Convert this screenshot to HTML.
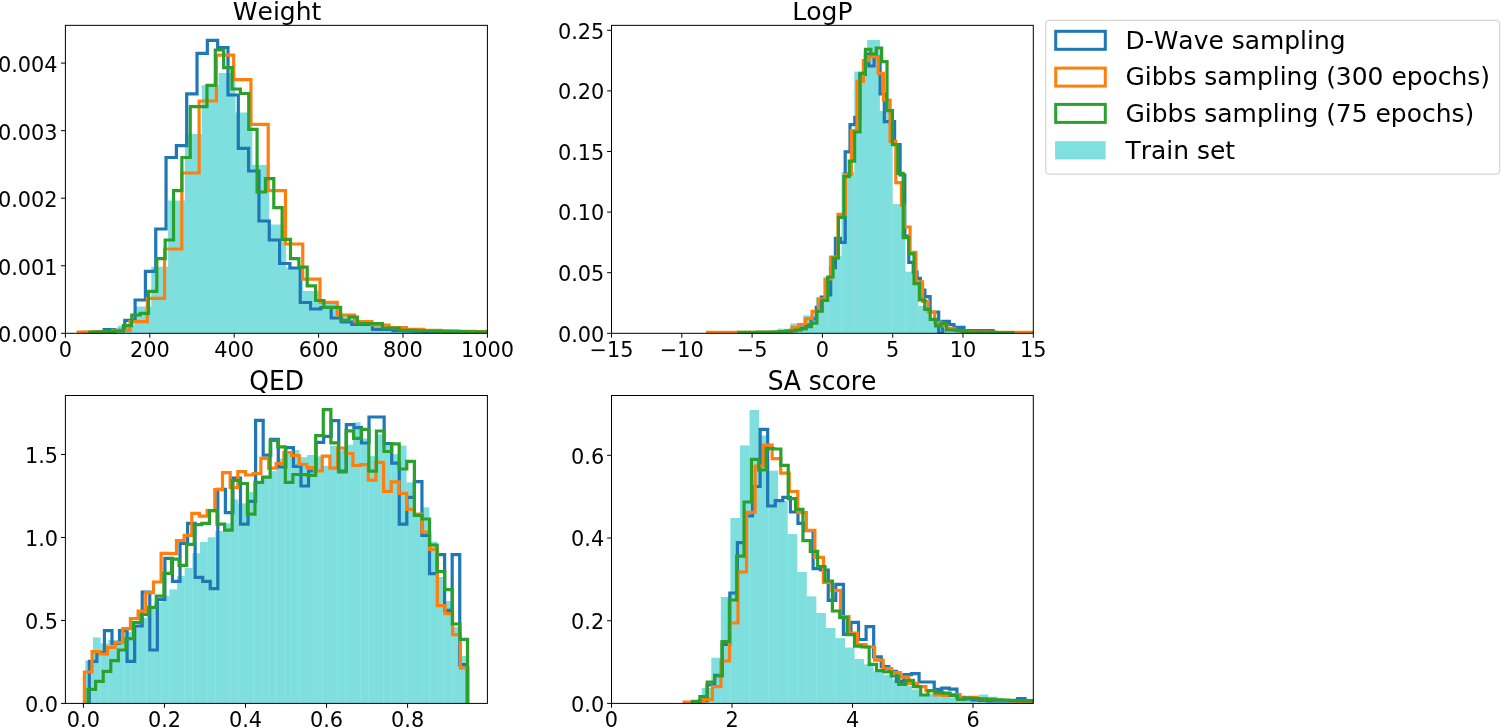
<!DOCTYPE html>
<html lang="en"><head><meta charset="utf-8"><title>Property distributions</title>
<style>html,body{margin:0;padding:0;background:#fff}svg{display:block}text{font-family:"DejaVu Sans", "Liberation Sans", sans-serif;fill:#000;font-kerning:none}.tk{font-size:20.83px}.tt{font-size:25.0px}.lg{font-size:24.95px}.st{fill:none;stroke-width:3.2;stroke-linejoin:miter;stroke-linecap:butt}</style></head><body>
<svg width="1501" height="727" viewBox="0 0 1501 727">
<rect width="1501" height="727" fill="#fff"/>
<defs>
<clipPath id="a1"><rect x="65.4" y="25.35" width="422" height="307.95"/></clipPath>
<clipPath id="a2"><rect x="611.5" y="25.35" width="421.8" height="307.95"/></clipPath>
<clipPath id="a3"><rect x="65.4" y="395.5" width="422" height="307.9"/></clipPath>
<clipPath id="a4"><rect x="611.5" y="395.5" width="421.8" height="307.9"/></clipPath>
</defs>
<g>
<g clip-path="url(#a1)">
<path d="M83.85 333.3 L83.85 332 L100.7 332 L100.7 330.3 L117.55 330.3 L117.55 325.7 L134.4 325.7 L134.4 306.4 L151.25 306.4 L151.25 266.7 L168.1 266.7 L168.1 200.6 L184.95 200.6 L184.95 133.9 L201.8 133.9 L201.8 85.2 L218.65 85.2 L218.65 73 L235.5 73 L235.5 112.5 L252.35 112.5 L252.35 164.9 L269.2 164.9 L269.2 224.4 L286.05 224.4 L286.05 267.5 L302.9 267.5 L302.9 291 L319.75 291 L319.75 304 L336.6 304 L336.6 315.5 L353.45 315.5 L353.45 322 L370.3 322 L370.3 324.5 L387.15 324.5 L387.15 327.5 L404 327.5 L404 329.3 L420.85 329.3 L420.85 330.3 L437.7 330.3 L437.7 330.9 L454.55 330.9 L454.55 331.4 L471.4 331.4 L471.4 331.8 L488.25 331.8 L488.25 332.1 L505.1 332.1 L505.1 333.3 Z" fill="#00bfbf" fill-opacity="0.5"/>
<path class="st" d="M83.5 333.3 L83.5 332.3 L93.82 332.3 L93.82 332 L104.14 332 L104.14 329.7 L114.46 329.7 L114.46 330.4 L124.78 330.4 L124.78 320.4 L135.1 320.4 L135.1 300 L145.42 300 L145.42 271.4 L155.74 271.4 L155.74 229 L166.06 229 L166.06 157.5 L176.38 157.5 L176.38 145.7 L186.7 145.7 L186.7 93.8 L197.02 93.8 L197.02 53.3 L207.34 53.3 L207.34 40.4 L217.66 40.4 L217.66 47.5 L227.98 47.5 L227.98 95 L238.3 95 L238.3 148.3 L248.62 148.3 L248.62 171 L258.94 171 L258.94 221 L269.26 221 L269.26 240 L279.58 240 L279.58 263.5 L289.9 263.5 L289.9 268 L300.22 268 L300.22 302.5 L310.54 302.5 L310.54 309 L320.86 309 L320.86 307.5 L331.18 307.5 L331.18 318 L341.5 318 L341.5 322 L351.82 322 L351.82 324.4 L362.14 324.4 L372.46 324.4 L372.46 329.3 L382.78 329.3 L393.1 329.3 L393.1 330.6 L403.42 330.6 L403.42 331 L413.74 331 L413.74 331.2 L424.06 331.2 L424.06 331.5 L434.38 331.5 L434.38 331.7 L444.7 331.7 L444.7 331.9 L455.02 331.9 L455.02 331.6 L465.34 331.6 L465.34 332 L475.66 332 L485.98 332 L485.98 331.3 L496.3 331.3 L496.3 333.3" stroke="#1f77b4"/>
<path class="st" d="M78.18 333.3 L78.18 332.2 L95.45 332.2 L95.45 331.6 L112.72 331.6 L112.72 330.4 L130 330.4 L130 321.7 L147.28 321.7 L147.28 298.4 L164.55 298.4 L164.55 249 L181.82 249 L181.82 173 L199.1 173 L199.1 101 L216.38 101 L216.38 55.2 L233.65 55.2 L233.65 79.7 L250.92 79.7 L250.92 124.3 L268.2 124.3 L268.2 190.6 L285.48 190.6 L285.48 244 L302.75 244 L302.75 279.2 L320.02 279.2 L320.02 302.4 L337.3 302.4 L337.3 315 L354.57 315 L354.57 321.7 L371.85 321.7 L371.85 325 L389.12 325 L389.12 327.7 L406.4 327.7 L406.4 329.3 L423.67 329.3 L423.67 330.3 L440.95 330.3 L440.95 330.9 L458.22 330.9 L458.22 331.3 L475.5 331.3 L475.5 331.7 L492.77 331.7 L492.77 332 L510.05 332 L510.05 333.3" stroke="#ff7f0e"/>
<path class="st" d="M89.98 333.3 L89.98 332.2 L98.34 332.2 L98.34 331.9 L106.69 331.9 L106.69 331.5 L115.05 331.5 L115.05 331 L123.4 331 L123.4 325.7 L131.75 325.7 L131.75 315 L140.11 315 L140.11 313.3 L148.47 313.3 L148.47 291.3 L156.82 291.3 L156.82 258.7 L165.18 258.7 L165.18 240 L173.53 240 L173.53 190.6 L181.88 190.6 L181.88 157.5 L190.24 157.5 L190.24 106.6 L198.6 106.6 L206.95 106.6 L206.95 85.4 L215.31 85.4 L215.31 50 L223.66 50 L223.66 67.6 L232.02 67.6 L232.02 89 L240.37 89 L240.37 93.5 L248.73 93.5 L248.73 129.3 L257.08 129.3 L257.08 192 L265.44 192 L265.44 178.6 L273.79 178.6 L273.79 207.6 L282.14 207.6 L282.14 239.4 L290.5 239.4 L290.5 258.6 L298.86 258.6 L298.86 267.2 L307.21 267.2 L307.21 285.8 L315.57 285.8 L315.57 300.5 L323.92 300.5 L323.92 307.3 L332.27 307.3 L340.63 307.3 L340.63 320.4 L348.99 320.4 L348.99 317 L357.34 317 L357.34 323.7 L365.7 323.7 L374.05 323.7 L382.4 323.7 L382.4 328 L390.76 328 L399.12 328 L399.12 330.4 L407.47 330.4 L415.83 330.4 L415.83 330.8 L424.18 330.8 L424.18 331 L432.53 331 L432.53 331.2 L440.89 331.2 L440.89 331.4 L449.25 331.4 L449.25 331.5 L457.6 331.5 L457.6 331.7 L465.96 331.7 L465.96 331.8 L474.31 331.8 L474.31 331.9 L482.67 331.9 L482.67 332 L491.02 332 L499.38 332 L499.38 333.3" stroke="#2ca02c"/>
</g>
<path d="M65.4 333.3 v4.4 M149.8 333.3 v4.4 M234.2 333.3 v4.4 M318.6 333.3 v4.4 M403 333.3 v4.4 M487.4 333.3 v4.4 M65.4 333.3 h-4.4 M65.4 265.75 h-4.4 M65.4 198.2 h-4.4 M65.4 130.65 h-4.4 M65.4 63.1 h-4.4" stroke="#000" stroke-width="1" fill="none"/>
<rect x="65.4" y="25.35" width="422" height="307.95" fill="none" stroke="#000" stroke-width="1"/>
<text class="tk" x="65.4" y="357.3" text-anchor="middle">0</text>
<text class="tk" x="149.8" y="357.3" text-anchor="middle">200</text>
<text class="tk" x="234.2" y="357.3" text-anchor="middle">400</text>
<text class="tk" x="318.6" y="357.3" text-anchor="middle">600</text>
<text class="tk" x="403" y="357.3" text-anchor="middle">800</text>
<text class="tk" x="487.4" y="357.3" text-anchor="middle">1000</text>
<text class="tk" x="57.6" y="342.45" text-anchor="end">0.000</text>
<text class="tk" x="57.6" y="274.9" text-anchor="end">0.001</text>
<text class="tk" x="57.6" y="207.35" text-anchor="end">0.002</text>
<text class="tk" x="57.6" y="139.8" text-anchor="end">0.003</text>
<text class="tk" x="57.6" y="72.25" text-anchor="end">0.004</text>
<text class="tt" x="277.1" y="20" text-anchor="middle">Weight</text>
</g>
<g>
<g clip-path="url(#a2)">
<g fill="#00bfbf" fill-opacity="0.5">
<rect x="739.1" y="332.6" width="12.8" height="0.7"/>
<rect x="751.9" y="332.3" width="12.8" height="1"/>
<rect x="764.7" y="331" width="12.8" height="2.3"/>
<rect x="777.5" y="328.7" width="12.8" height="4.6"/>
<rect x="790.3" y="323.4" width="12.8" height="9.9"/>
<rect x="803.1" y="315.4" width="12.8" height="17.9"/>
<rect x="815.9" y="297.4" width="12.8" height="35.9"/>
<rect x="828.7" y="256.2" width="12.8" height="77.1"/>
<rect x="841.5" y="172" width="12.8" height="161.3"/>
<rect x="854.3" y="71.6" width="12.8" height="261.7"/>
<rect x="867.1" y="40" width="12.8" height="293.3"/>
<rect x="879.9" y="111" width="12.8" height="222.3"/>
<rect x="892.7" y="204.1" width="12.8" height="129.2"/>
<rect x="905.5" y="271.7" width="12.8" height="61.6"/>
<rect x="918.3" y="306" width="12.8" height="27.3"/>
<rect x="931.1" y="320" width="12.8" height="13.3"/>
<rect x="943.9" y="328.7" width="12.8" height="4.6"/>
<rect x="956.7" y="331.5" width="12.8" height="1.8"/>
<rect x="969.5" y="332.3" width="12.8" height="1"/>
<rect x="982.3" y="332.6" width="12.8" height="0.7"/>
</g>
<path class="st" d="M746 333.3 L746 332.5 L771 332.5 L771 332.3 L776 332.3 L776 332 L781 332 L781 331.6 L786 331.6 L786 331 L791 331 L791 330.4 L796 330.4 L796 329.6 L801 329.6 L801 328 L806 328 L806 325 L811 325 L811 319 L816.3 319 L816.3 307.4 L821.2 307.4 L821.2 297 L826 297 L826 295 L830.7 295 L830.7 267.7 L835.4 267.7 L835.4 238.4 L840.4 238.4 L840.4 242.4 L845.2 242.4 L845.2 151.8 L850 151.8 L850 124.7 L854.8 124.7 L854.8 117.4 L859.9 117.4 L859.9 74.5 L865.4 74.5 L865.4 54 L868.8 54 L868.8 66 L874.1 66 L874.1 57 L880.1 57 L880.1 94 L884.3 94 L884.3 121.7 L889.3 121.7 L894.6 121.7 L894.6 144.5 L900.1 144.5 L900.1 175 L904.8 175 L904.8 236 L908.8 236 L908.8 262.4 L913.2 262.4 L913.2 272 L917 272 L917 278.4 L920.3 278.4 L920.3 290 L924.9 290 L924.9 296.7 L930.1 296.7 L930.1 312 L935 312 L938.7 312 L938.7 333.3 L942.7 333.3 L942.7 321.4 L949.4 321.4 L949.4 324.7 L954 324.7 L954 327.4 L964 327.4 L964 330.7 L993 330.7 L993 332.5 L1003 332.5 L1003 333.3" stroke="#1f77b4"/>
<path class="st" d="M707.5 333.3 L707.5 332.4 L785.5 332.4 L785.5 331.4 L792 331.4 L792 327.4 L798.7 327.4 L798.7 324.7 L805.4 324.7 L805.4 318.7 L812.1 318.7 L812.1 311.4 L818.4 311.4 L818.4 299 L825 299 L825 279 L830.9 279 L830.9 257 L838 257 L838 214.3 L845.4 214.3 L845.4 174.7 L851.4 174.7 L851.4 130.7 L857.1 130.7 L857.1 81.4 L863.4 81.4 L863.4 60.7 L868.7 60.7 L868.7 56.7 L878.1 56.7 L878.1 73.4 L883.4 73.4 L883.4 100 L890.1 100 L890.1 141.3 L895.8 141.3 L895.8 182.7 L901.4 182.7 L901.4 205 L904.2 205 L904.2 227 L910.1 227 L910.1 252.4 L916 252.4 L916 281.8 L922.6 281.8 L922.6 301.4 L928.3 301.4 L928.3 312 L934.7 312 L934.7 322.7 L941.3 322.7 L941.3 326 L947.5 326 L947.5 328.7 L954.5 328.7 L954.5 330.5 L961 330.5 L961 331.3 L967.5 331.3 L967.5 331.8 L974 331.8 L974 332.1 L990 332.1 L990 332.4 L1036 332.4 L1036 333.3" stroke="#ff7f0e"/>
<path class="st" d="M738.7 333.3 L738.7 332.3 L746.75 332.3 L752.15 332.3 L757.55 332.3 L757.55 332.2 L762.94 332.2 L768.34 332.2 L768.34 332.1 L773.73 332.1 L773.73 332 L779.12 332 L779.12 331.8 L784.52 331.8 L784.52 331.5 L789.92 331.5 L789.92 331 L795.31 331 L795.31 330 L800.71 330 L800.71 329 L806.1 329 L806.1 326.7 L811.5 326.7 L811.5 323.1 L816.89 323.1 L816.89 311.1 L822.28 311.1 L822.28 300.4 L827.68 300.4 L827.68 277 L833.08 277 L833.08 258 L838.47 258 L838.47 217.3 L843.87 217.3 L843.87 176.7 L849.26 176.7 L849.26 161.1 L854.65 161.1 L854.65 132 L860.05 132 L860.05 73.4 L865.45 73.4 L865.45 49.3 L870.84 49.3 L870.84 54 L876.24 54 L876.24 48 L881.63 48 L881.63 61.6 L887.02 61.6 L887.02 110.7 L892.42 110.7 L892.42 144.7 L897.82 144.7 L897.82 173.4 L903.21 173.4 L903.21 237.7 L908.61 237.7 L908.61 253.8 L914 253.8 L914 283.6 L919.39 283.6 L919.39 299.8 L924.79 299.8 L924.79 309.4 L930.19 309.4 L930.19 319.4 L935.58 319.4 L935.58 326 L940.98 326 L940.98 323.4 L946.37 323.4 L946.37 330 L951.76 330 L957.16 330 L957.16 330.6 L962.56 330.6 L962.56 331.5 L967.95 331.5 L967.95 332 L973.35 332 L973.35 332.3 L978.74 332.3 L978.74 332.5 L984.13 332.5 L989.53 332.5 L989.53 332 L994.92 332 L994.92 332.5 L1013 332.5 L1013 333.3" stroke="#2ca02c"/>
</g>
<path d="M611.5 333.3 v4.4 M681.8 333.3 v4.4 M752.1 333.3 v4.4 M822.4 333.3 v4.4 M892.7 333.3 v4.4 M963 333.3 v4.4 M1033.3 333.3 v4.4 M611.5 333.3 h-4.4 M611.5 272.7 h-4.4 M611.5 212.1 h-4.4 M611.5 151.5 h-4.4 M611.5 90.9 h-4.4 M611.5 30.3 h-4.4" stroke="#000" stroke-width="1" fill="none"/>
<rect x="611.5" y="25.35" width="421.8" height="307.95" fill="none" stroke="#000" stroke-width="1"/>
<text class="tk" x="611.5" y="357" text-anchor="middle">−15</text>
<text class="tk" x="681.8" y="357" text-anchor="middle">−10</text>
<text class="tk" x="752.1" y="357" text-anchor="middle">−5</text>
<text class="tk" x="822.4" y="357" text-anchor="middle">0</text>
<text class="tk" x="892.7" y="357" text-anchor="middle">5</text>
<text class="tk" x="963" y="357" text-anchor="middle">10</text>
<text class="tk" x="1033.3" y="357" text-anchor="middle">15</text>
<text class="tk" x="604.4" y="341.5" text-anchor="end">0.00</text>
<text class="tk" x="604.4" y="280.9" text-anchor="end">0.05</text>
<text class="tk" x="604.4" y="220.3" text-anchor="end">0.10</text>
<text class="tk" x="604.4" y="159.7" text-anchor="end">0.15</text>
<text class="tk" x="604.4" y="99.1" text-anchor="end">0.20</text>
<text class="tk" x="604.4" y="38.5" text-anchor="end">0.25</text>
<text class="tt" x="822.4" y="20" text-anchor="middle">LogP</text>
</g>
<g>
<g clip-path="url(#a3)">
<g fill="#00bfbf" fill-opacity="0.5">
<rect x="85.3" y="660.7" width="7.65" height="42.7"/>
<rect x="92.95" y="637.4" width="7.65" height="66"/>
<rect x="100.6" y="643.4" width="7.65" height="60"/>
<rect x="108.24" y="640" width="7.65" height="63.4"/>
<rect x="115.89" y="640" width="7.65" height="63.4"/>
<rect x="123.54" y="632" width="7.65" height="71.4"/>
<rect x="131.19" y="627" width="7.65" height="76.4"/>
<rect x="138.84" y="618" width="7.65" height="85.4"/>
<rect x="146.48" y="608.7" width="7.65" height="94.7"/>
<rect x="154.13" y="602" width="7.65" height="101.4"/>
<rect x="161.78" y="596" width="7.65" height="107.4"/>
<rect x="169.43" y="589.4" width="7.65" height="114"/>
<rect x="177.08" y="576" width="7.65" height="127.4"/>
<rect x="184.72" y="568" width="7.65" height="135.4"/>
<rect x="192.37" y="553.3" width="7.65" height="150.1"/>
<rect x="200.02" y="542" width="7.65" height="161.4"/>
<rect x="207.67" y="537.3" width="7.65" height="166.1"/>
<rect x="215.32" y="531" width="7.65" height="172.4"/>
<rect x="222.96" y="523.4" width="7.65" height="180"/>
<rect x="230.61" y="499.4" width="7.65" height="204"/>
<rect x="238.26" y="503.4" width="7.65" height="200"/>
<rect x="245.91" y="492" width="7.65" height="211.4"/>
<rect x="253.56" y="484" width="7.65" height="219.4"/>
<rect x="261.2" y="478" width="7.65" height="225.4"/>
<rect x="268.85" y="471" width="7.65" height="232.4"/>
<rect x="276.5" y="458.6" width="7.65" height="244.8"/>
<rect x="284.15" y="454" width="7.65" height="249.4"/>
<rect x="291.8" y="450" width="7.65" height="253.4"/>
<rect x="299.44" y="457.2" width="7.65" height="246.2"/>
<rect x="307.09" y="455" width="7.65" height="248.4"/>
<rect x="314.74" y="456.4" width="7.65" height="247"/>
<rect x="322.39" y="465.8" width="7.65" height="237.6"/>
<rect x="330.04" y="445.8" width="7.65" height="257.6"/>
<rect x="337.68" y="450.4" width="7.65" height="253"/>
<rect x="345.33" y="444.8" width="7.65" height="258.6"/>
<rect x="352.98" y="422.4" width="7.65" height="281"/>
<rect x="360.63" y="438.4" width="7.65" height="265"/>
<rect x="368.28" y="456.2" width="7.65" height="247.2"/>
<rect x="375.92" y="434.4" width="7.65" height="269"/>
<rect x="383.57" y="445.5" width="7.65" height="257.9"/>
<rect x="391.22" y="454.2" width="7.65" height="249.2"/>
<rect x="398.87" y="445.6" width="7.65" height="257.8"/>
<rect x="406.52" y="482.4" width="7.65" height="221"/>
<rect x="414.16" y="514" width="7.65" height="189.4"/>
<rect x="421.81" y="507.4" width="7.65" height="196"/>
<rect x="429.46" y="541.7" width="7.65" height="161.7"/>
<rect x="437.11" y="577" width="7.65" height="126.4"/>
<rect x="444.76" y="601" width="7.65" height="102.4"/>
<rect x="452.4" y="627" width="7.65" height="76.4"/>
<rect x="460.05" y="656" width="7.65" height="47.4"/>
</g>
<path class="st" d="M89.3 703.4 L89.3 661.4 L96.86 661.4 L96.86 652.5 L104.42 652.5 L104.42 630.7 L111.98 630.7 L111.98 643.4 L119.54 643.4 L119.54 630.7 L127.1 630.7 L127.1 661.4 L134.66 661.4 L134.66 626 L142.22 626 L142.22 592 L149.78 592 L149.78 650 L157.34 650 L157.34 599.4 L164.9 599.4 L164.9 558.3 L172.46 558.3 L172.46 581.4 L180.02 581.4 L180.02 543.3 L187.58 543.3 L187.58 523.4 L195.14 523.4 L195.14 577.4 L202.7 577.4 L202.7 581.4 L210.26 581.4 L210.26 588.7 L217.82 588.7 L217.82 489.4 L225.38 489.4 L225.38 512.7 L232.94 512.7 L232.94 478.2 L240.5 478.2 L240.5 524.1 L248.06 524.1 L248.06 501.4 L255.62 501.4 L255.62 420.4 L263.18 420.4 L263.18 455.1 L270.74 455.1 L270.74 439.3 L278.3 439.3 L278.3 467 L285.86 467 L285.86 447.7 L293.42 447.7 L293.42 466.4 L300.98 466.4 L300.98 486 L308.54 486 L308.54 471 L316.1 471 L316.1 442.4 L323.66 442.4 L323.66 436.4 L331.22 436.4 L331.22 420.6 L338.78 420.6 L338.78 471 L346.34 471 L346.34 424.6 L353.9 424.6 L353.9 427.7 L361.46 427.7 L361.46 443 L369.02 443 L369.02 417 L376.58 417 L384.14 417 L384.14 443.7 L391.7 443.7 L391.7 463.1 L399.26 463.1 L399.26 524.1 L406.82 524.1 L406.82 497.4 L414.38 497.4 L414.38 481.6 L421.94 481.6 L421.94 535.4 L429.5 535.4 L429.5 573.7 L437.06 573.7 L437.06 554.6 L444.62 554.6 L444.62 610.4 L452.18 610.4 L452.18 554.6 L459.74 554.6 L459.74 664.7 L467.2 664.7 L467.2 703.4" stroke="#1f77b4"/>
<path class="st" d="M84.4 703.4 L84.4 672 L92.07 672 L92.07 651.6 L99.74 651.6 L99.74 654 L107.42 654 L107.42 647.4 L115.09 647.4 L115.09 642.7 L122.76 642.7 L122.76 628.7 L130.43 628.7 L130.43 618.5 L138.1 618.5 L138.1 611.1 L145.78 611.1 L145.78 592.7 L153.45 592.7 L153.45 582 L161.12 582 L161.12 553.3 L168.79 553.3 L168.79 553.7 L176.46 553.7 L176.46 540.7 L184.14 540.7 L184.14 535.3 L191.81 535.3 L191.81 513.4 L199.48 513.4 L199.48 516.1 L207.15 516.1 L207.15 510.7 L214.82 510.7 L214.82 489.6 L222.5 489.6 L222.5 472.7 L230.17 472.7 L230.17 487.4 L237.84 487.4 L237.84 471.7 L245.51 471.7 L245.51 475 L253.18 475 L253.18 473.5 L260.86 473.5 L260.86 458.4 L268.53 458.4 L268.53 468.2 L276.2 468.2 L276.2 463.5 L283.87 463.5 L283.87 452.5 L291.54 452.5 L291.54 455.5 L299.22 455.5 L299.22 464.4 L306.89 464.4 L306.89 467.5 L314.56 467.5 L314.56 470.9 L322.23 470.9 L322.23 456.2 L329.9 456.2 L329.9 468.2 L337.58 468.2 L337.58 448.2 L345.25 448.2 L345.25 453.5 L352.92 453.5 L352.92 465.5 L360.59 465.5 L360.59 464.6 L368.26 464.6 L368.26 480.1 L375.94 480.1 L375.94 462.4 L383.61 462.4 L383.61 491.4 L391.28 491.4 L391.28 481.8 L398.95 481.8 L398.95 493.4 L406.62 493.4 L406.62 509.4 L414.3 509.4 L414.3 514 L421.97 514 L421.97 532.1 L429.64 532.1 L429.64 549.3 L437.31 549.3 L437.31 605.7 L444.98 605.7 L444.98 613.7 L452.66 613.7 L452.66 634.7 L460.33 634.7 L460.33 668 L468 668 L468 703.4" stroke="#ff7f0e"/>
<path class="st" d="M88 703.4 L88 689.4 L95.59 689.4 L95.59 681.4 L103.18 681.4 L103.18 671.4 L110.77 671.4 L110.77 660.7 L118.36 660.7 L118.36 650 L125.95 650 L125.95 638.7 L133.54 638.7 L133.54 622.4 L141.13 622.4 L141.13 614.5 L148.72 614.5 L148.72 607.4 L156.31 607.4 L156.31 596 L163.9 596 L163.9 573.4 L171.49 573.4 L171.49 559.1 L179.08 559.1 L179.08 565.4 L186.67 565.4 L186.67 544.4 L194.26 544.4 L194.26 524.7 L201.85 524.7 L201.85 523.4 L209.44 523.4 L209.44 510.7 L217.03 510.7 L217.03 524.1 L224.62 524.1 L224.62 530.1 L232.21 530.1 L232.21 480.5 L239.8 480.5 L239.8 483.5 L247.39 483.5 L247.39 514.1 L254.98 514.1 L254.98 482.4 L262.57 482.4 L262.57 477.2 L270.16 477.2 L270.16 440.5 L277.75 440.5 L277.75 446.8 L285.34 446.8 L285.34 482.4 L292.93 482.4 L292.93 474.5 L300.52 474.5 L300.52 474.7 L308.11 474.7 L308.11 475.3 L315.7 475.3 L315.7 435.7 L323.29 435.7 L323.29 409.7 L330.88 409.7 L330.88 442.8 L338.47 442.8 L338.47 471.8 L346.06 471.8 L346.06 430.8 L353.65 430.8 L353.65 438.4 L361.24 438.4 L361.24 429.4 L368.83 429.4 L368.83 471.2 L376.42 471.2 L376.42 431 L384.01 431 L384.01 451.5 L391.6 451.5 L391.6 443.8 L399.19 443.8 L399.19 469 L406.78 469 L406.78 461.4 L414.37 461.4 L414.37 515.4 L421.96 515.4 L421.96 519 L429.55 519 L429.55 545 L437.14 545 L437.14 571.7 L444.73 571.7 L444.73 589.7 L452.32 589.7 L452.32 624 L459.91 624 L459.91 639.4 L467.5 639.4 L467.5 703.4" stroke="#2ca02c"/>
</g>
<path d="M83.4 703.4 v4.4 M164.45 703.4 v4.4 M245.5 703.4 v4.4 M326.55 703.4 v4.4 M407.6 703.4 v4.4 M65.4 703.4 h-4.4 M65.4 620.43 h-4.4 M65.4 537.46 h-4.4 M65.4 454.49 h-4.4" stroke="#000" stroke-width="1" fill="none"/>
<rect x="65.4" y="395.5" width="422" height="307.9" fill="none" stroke="#000" stroke-width="1"/>
<text class="tk" x="83.4" y="726.7" text-anchor="middle">0.0</text>
<text class="tk" x="164.45" y="726.7" text-anchor="middle">0.2</text>
<text class="tk" x="245.5" y="726.7" text-anchor="middle">0.4</text>
<text class="tk" x="326.55" y="726.7" text-anchor="middle">0.6</text>
<text class="tk" x="407.6" y="726.7" text-anchor="middle">0.8</text>
<text class="tk" x="58.05" y="711.6" text-anchor="end">0.0</text>
<text class="tk" x="58.05" y="628.63" text-anchor="end">0.5</text>
<text class="tk" x="58.05" y="545.66" text-anchor="end">1.0</text>
<text class="tk" x="58.05" y="462.69" text-anchor="end">1.5</text>
<text class="tt" transform="translate(276.7 390) scale(1 1.03)" text-anchor="middle">QED</text>
</g>
<g>
<g clip-path="url(#a4)">
<g fill="#00bfbf" fill-opacity="0.5">
<rect x="692.2" y="702" width="9.55" height="1.4"/>
<rect x="701.75" y="688" width="9.55" height="15.4"/>
<rect x="711.3" y="657.7" width="9.55" height="45.7"/>
<rect x="720.85" y="597" width="9.55" height="106.4"/>
<rect x="730.4" y="518" width="9.55" height="185.4"/>
<rect x="739.95" y="445.4" width="9.55" height="258"/>
<rect x="749.5" y="410" width="9.55" height="293.4"/>
<rect x="759.05" y="435.4" width="9.55" height="268"/>
<rect x="768.6" y="470.7" width="9.55" height="232.7"/>
<rect x="778.15" y="501" width="9.55" height="202.4"/>
<rect x="787.7" y="534" width="9.55" height="169.4"/>
<rect x="797.25" y="572" width="9.55" height="131.4"/>
<rect x="806.8" y="596.4" width="9.55" height="107"/>
<rect x="816.35" y="613" width="9.55" height="90.4"/>
<rect x="825.9" y="628" width="9.55" height="75.4"/>
<rect x="835.45" y="638.1" width="9.55" height="65.3"/>
<rect x="845" y="647.5" width="9.55" height="55.9"/>
<rect x="854.55" y="659" width="9.55" height="44.4"/>
<rect x="864.1" y="664.3" width="9.55" height="39.1"/>
<rect x="873.65" y="671.4" width="9.55" height="32"/>
<rect x="883.2" y="674.7" width="9.55" height="28.7"/>
<rect x="892.75" y="679.4" width="9.55" height="24"/>
<rect x="902.3" y="686" width="9.55" height="17.4"/>
<rect x="911.85" y="689.4" width="9.55" height="14"/>
<rect x="921.4" y="694" width="9.55" height="9.4"/>
<rect x="930.95" y="693.4" width="9.55" height="10"/>
<rect x="940.5" y="696.7" width="9.55" height="6.7"/>
<rect x="950.05" y="697.4" width="9.55" height="6"/>
<rect x="959.6" y="696" width="9.55" height="7.4"/>
<rect x="969.15" y="696.3" width="9.55" height="7.1"/>
<rect x="978.7" y="694.5" width="9.55" height="8.9"/>
<rect x="988.25" y="696.7" width="9.55" height="6.7"/>
<rect x="997.8" y="698.9" width="9.55" height="4.5"/>
<rect x="1007.35" y="699.8" width="9.55" height="3.6"/>
<rect x="1016.9" y="700.7" width="9.55" height="2.7"/>
<rect x="1026.45" y="701.2" width="9.55" height="2.2"/>
</g>
<path class="st" d="M691.98 703.4 L691.98 702.3 L699.55 702.3 L699.55 700.7 L707.12 700.7 L707.12 685 L714.69 685 L714.69 675.4 L722.26 675.4 L722.26 644.4 L729.83 644.4 L729.83 593 L737.4 593 L737.4 542.7 L744.97 542.7 L744.97 516 L752.54 516 L752.54 486.5 L760.11 486.5 L760.11 429.4 L767.68 429.4 L767.68 506 L775.25 506 L775.25 500.7 L782.82 500.7 L782.82 497.3 L790.39 497.3 L790.39 512 L797.96 512 L797.96 523.4 L805.53 523.4 L805.53 530.7 L813.1 530.7 L813.1 568.7 L820.67 568.7 L820.67 570 L828.24 570 L828.24 600.4 L835.81 600.4 L835.81 584.3 L843.38 584.3 L843.38 634.4 L850.95 634.4 L850.95 622.4 L858.52 622.4 L858.52 639.5 L866.09 639.5 L866.09 626.7 L873.66 626.7 L873.66 656.9 L881.23 656.9 L881.23 666.7 L888.8 666.7 L888.8 671.4 L896.37 671.4 L896.37 681.4 L903.94 681.4 L903.94 674.7 L911.51 674.7 L911.51 673.6 L919.08 673.6 L919.08 682 L926.65 682 L934.22 682 L934.22 689.4 L941.79 689.4 L941.79 688.1 L949.36 688.1 L949.36 689.1 L956.93 689.1 L956.93 697.4 L964.5 697.4 L964.5 699 L972.07 699 L972.07 700 L979.64 700 L979.64 700.5 L987.21 700.5 L987.21 700.8 L994.78 700.8 L994.78 701 L1002.35 701 L1009.92 701 L1009.92 700.8 L1017.49 700.8 L1017.49 698.7 L1025.06 698.7 L1025.06 700.6 L1032.63 700.6 L1032.63 701 L1036 701 L1036 703.4" stroke="#1f77b4"/>
<path class="st" d="M684.1 703.4 L684.1 702.2 L686.76 702.2 L695.3 702.2 L695.3 702 L703.84 702 L703.84 699.4 L712.38 699.4 L712.38 686.7 L720.92 686.7 L720.92 661 L729.46 661 L729.46 623 L738 623 L738 572 L746.54 572 L746.54 512.3 L755.08 512.3 L755.08 466 L763.62 466 L763.62 445.1 L772.16 445.1 L772.16 458.7 L780.7 458.7 L780.7 473.1 L789.24 473.1 L789.24 491.5 L797.78 491.5 L797.78 512.7 L806.32 512.7 L806.32 530.4 L814.86 530.4 L814.86 557.4 L823.4 557.4 L823.4 582.3 L831.94 582.3 L831.94 590.3 L840.48 590.3 L840.48 616.5 L849.02 616.5 L849.02 633.2 L857.56 633.2 L857.56 644.5 L866.1 644.5 L866.1 647 L874.64 647 L874.64 660.2 L883.18 660.2 L883.18 668.7 L891.72 668.7 L891.72 672.7 L900.26 672.7 L900.26 677.1 L908.8 677.1 L908.8 683.4 L917.34 683.4 L917.34 686.7 L925.88 686.7 L925.88 690.7 L934.42 690.7 L934.42 695 L942.96 695 L942.96 695.4 L951.5 695.4 L951.5 694.7 L960.04 694.7 L960.04 698.1 L968.58 698.1 L968.58 697.4 L977.12 697.4 L977.12 698.6 L985.66 698.6 L985.66 699.3 L994.2 699.3 L994.2 700 L1002.74 700 L1002.74 700.5 L1011.28 700.5 L1011.28 701 L1019.82 701 L1019.82 701.3 L1028.36 701.3 L1028.36 701.6 L1036 701.6 L1036 703.4" stroke="#ff7f0e"/>
<path class="st" d="M692.54 703.4 L692.54 701.4 L699.9 701.4 L699.9 696.7 L707.26 696.7 L707.26 682 L714.62 682 L714.62 676 L721.98 676 L721.98 641.7 L729.34 641.7 L729.34 600 L736.7 600 L736.7 556.1 L744.06 556.1 L744.06 502 L751.42 502 L751.42 459.4 L758.78 459.4 L758.78 470 L766.14 470 L766.14 448.7 L773.5 448.7 L773.5 449 L780.86 449 L780.86 465.4 L788.22 465.4 L788.22 498.7 L795.58 498.7 L795.58 509.4 L802.94 509.4 L802.94 540.7 L810.3 540.7 L810.3 551.4 L817.66 551.4 L817.66 566.5 L825.02 566.5 L825.02 581 L832.38 581 L832.38 611 L839.74 611 L839.74 617.5 L847.1 617.5 L847.1 634.6 L854.46 634.6 L854.46 646.2 L861.82 646.2 L861.82 647 L869.18 647 L869.18 664.3 L876.54 664.3 L876.54 670.7 L883.9 670.7 L883.9 672 L891.26 672 L891.26 676 L898.62 676 L898.62 684.3 L905.98 684.3 L905.98 680.3 L913.34 680.3 L913.34 686.7 L920.7 686.7 L920.7 695 L928.06 695 L928.06 690.7 L935.42 690.7 L935.42 692.7 L942.78 692.7 L942.78 693.1 L950.14 693.1 L950.14 695.4 L957.5 695.4 L957.5 699.4 L964.86 699.4 L964.86 698.1 L972.22 698.1 L972.22 698.5 L979.58 698.5 L979.58 699 L986.94 699 L986.94 699.4 L994.3 699.4 L994.3 699.8 L1001.66 699.8 L1001.66 700.1 L1009.02 700.1 L1009.02 700.4 L1016.38 700.4 L1016.38 700.6 L1023.74 700.6 L1023.74 700.8 L1031.1 700.8 L1031.1 701 L1036 701 L1036 703.4" stroke="#2ca02c"/>
</g>
<path d="M611.5 703.4 v4.4 M732.01 703.4 v4.4 M852.53 703.4 v4.4 M973.04 703.4 v4.4 M611.5 703.4 h-4.4 M611.5 620.7 h-4.4 M611.5 538 h-4.4 M611.5 455.3 h-4.4" stroke="#000" stroke-width="1" fill="none"/>
<rect x="611.5" y="395.5" width="421.8" height="307.9" fill="none" stroke="#000" stroke-width="1"/>
<text class="tk" x="611.5" y="726.7" text-anchor="middle">0</text>
<text class="tk" x="732.01" y="726.7" text-anchor="middle">2</text>
<text class="tk" x="852.53" y="726.7" text-anchor="middle">4</text>
<text class="tk" x="973.04" y="726.7" text-anchor="middle">6</text>
<text class="tk" x="604.15" y="711.6" text-anchor="end">0.0</text>
<text class="tk" x="604.15" y="628.9" text-anchor="end">0.2</text>
<text class="tk" x="604.15" y="546.2" text-anchor="end">0.4</text>
<text class="tk" x="604.15" y="463.5" text-anchor="end">0.6</text>
<text class="tt" transform="translate(822.1 390) scale(1 1.03)" text-anchor="middle">SA score</text>
</g>
<g>
<rect x="1045.7" y="20.4" width="454" height="153.7" rx="3.5" ry="3.5" fill="#fff" fill-opacity="0.8" stroke="#ccc" stroke-opacity="0.8" stroke-width="1.25"/>
<rect x="1055.7" y="31.3" width="49.6" height="18" fill="none" stroke="#1f77b4" stroke-width="3"/>
<text class="lg" x="1125.5" y="49">D-Wave sampling</text>
<rect x="1055.7" y="68.1" width="49.6" height="18" fill="none" stroke="#ff7f0e" stroke-width="3"/>
<text class="lg" x="1125.5" y="85">Gibbs sampling (300 epochs)</text>
<rect x="1055.7" y="104.4" width="49.6" height="18" fill="none" stroke="#2ca02c" stroke-width="3"/>
<text class="lg" x="1125.5" y="122">Gibbs sampling (75 epochs)</text>
<rect x="1055.1" y="141.2" width="50.5" height="18.2" fill="#80dfdf"/>
<text class="lg" x="1125.5" y="159">Train set</text>
</g>
</svg></body></html>
